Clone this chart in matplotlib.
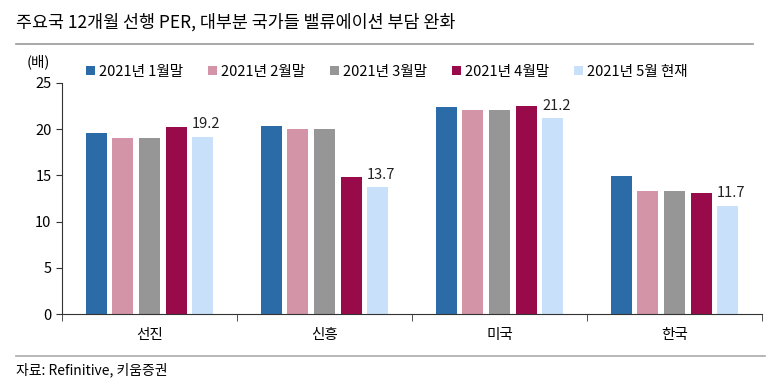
import matplotlib
matplotlib.use("Agg")
from matplotlib import pyplot as plt
from matplotlib.patches import Patch
from matplotlib.lines import Line2D
import numpy as np

plt.rcParams['font.family'] = ['Noto Sans CJK KR', 'DejaVu Sans']

categories = ["선진", "신흥", "미국", "한국"]
series_names = ["2021년 1월말", "2021년 2월말", "2021년 3월말", "2021년 4월말", "2021년 5월 현재"]
jan = [19.6, 20.4, 22.4, 14.9]
feb = [19.1, 20.0, 22.1, 13.3]
mar = [19.1, 20.0, 22.1, 13.3]
apr = [20.2, 14.8, 22.5, 13.1]
may = [19.2, 13.7, 21.2, 11.7]
colors = ["#2B6CA8", "#D494A8", "#969696", "#990A4B", "#C8E0FA"]

series = [jan, feb, mar, apr, may]

fig = plt.figure(figsize=(7.72, 3.86), dpi=100)
ax = fig.add_axes([62/772, 72/386, 700/772, 231/386])

x = np.arange(len(categories))
w = 0.12
step = 0.152
for i, (vals, c) in enumerate(zip(series, colors)):
    pos = x + (i - 2) * step
    ax.bar(pos, vals, width=w, color=c, label=series_names[i])
    if i == 4:
        # 마지막 시리즈에만 값 표시
        for p, v in zip(pos, vals):
            ax.text(p + 0.02, v + 0.6, f"{v:.1f}", ha="center", va="bottom",
                    fontsize=10.5, color="#222222")

ax.set_xlim(-0.5, len(categories) - 0.5)
ax.set_ylim(0, 25)
ax.set_yticks([0, 5, 10, 15, 20, 25])
ax.set_xticks(x)
ax.set_xticklabels(categories)
ax.set_xticks(np.arange(-0.5, len(categories), 1), minor=True)
ax.tick_params(axis="x", which="major", length=0, pad=10, labelsize=10.5)
ax.tick_params(axis="x", which="minor", length=5, color="#333333")
ax.tick_params(axis="y", length=4, labelsize=10.5, color="#333333")
for s in ["top", "right"]:
    ax.spines[s].set_visible(False)
ax.spines["left"].set_color("#333333")
ax.spines["bottom"].set_color("#333333")

fig.text(38/772, 1 - 62/386, "(배)", fontsize=10.5, ha="center", va="center")

handles = [Patch(facecolor=c) for c in colors]
fig.legend(handles, series_names, loc="center left", bbox_to_anchor=(86/772, 1 - 72/386),
           ncol=5, frameon=False, fontsize=10.5, handlelength=0.6, handleheight=0.6,
           handletextpad=0.3, columnspacing=1.7, borderaxespad=0, borderpad=0)

fig.text(16/772, 1 - 22/386, "주요국 12개월 선행 PER, 대부분 국가들 밸류에이션 부담 완화",
         fontsize=12.5, va="center", ha="left")
fig.add_artist(Line2D([16/772, 753/772], [1 - 44/386, 1 - 44/386], color="#999999", lw=1.2))
fig.add_artist(Line2D([16/772, 765/772], [1 - 356/386, 1 - 356/386], color="#aaaaaa", lw=1.2))
fig.text(16/772, 1 - 370/386, "자료: Refinitive, 키움증권", fontsize=10, va="center", ha="left")

fig.savefig("out.png", dpi=100)
